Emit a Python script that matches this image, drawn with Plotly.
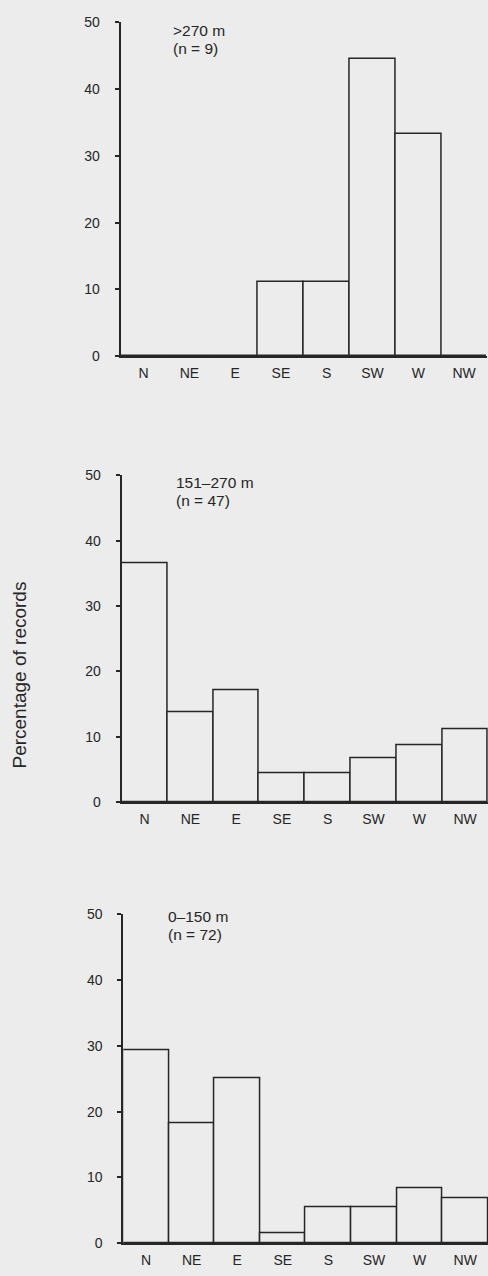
import plotly.graph_objects as go

# ---- data ----
directions = ["N", "NE", "E", "SE", "S", "SW", "W", "NW"]
pct_high = [0, 0, 0, 11.1, 11.1, 44.4, 33.3, 0]          # >270 m (n = 9)
pct_mid = [36.6, 13.7, 17.1, 4.3, 4.3, 6.6, 8.6, 11.1]    # 151–270 m (n = 47)
pct_low = [29.4, 18.3, 25.1, 1.6, 5.5, 5.5, 8.4, 6.8]     # 0–150 m (n = 72)
panel_titles = [">270 m", "151–270 m", "0–150 m"]
panel_counts = ["(n = 9)", "(n = 47)", "(n = 72)"]
y_ticks = [0, 10, 20, 30, 40, 50]
y_title = "Percentage of records"

W, H = 488, 1276
BG = "#ececec"
INK = "#262626"
FONT = "Liberation Sans, Arial, Helvetica, sans-serif"

def px_x(p):
    return p / W

def px_y(p):
    return 1 - p / H

# panel geometry in pixels: (axis x, right x, y of 0, y of 50)
panels = [
    (120.7, 487.0, 352.7, 14.3),
    (121.7, 488.0, 804.0, 473.3),
    (123.3, 488.0, 1251.0, 917.7),
]
label_pos = [  # (left x, line1 y, line2 y)
    (171.0, 22.7, 40.7),
    (174.0, 481.0, 499.0),
    (165.7, 920.0, 938.0),
]
series = [pct_high, pct_mid, pct_low]

fig = go.Figure()
layout = dict(
    width=W, height=H,
    margin=dict(l=0, r=0, t=0, b=0),
    paper_bgcolor=BG, plot_bgcolor=BG,
    showlegend=False, bargap=0,
    font=dict(family=FONT, color=INK),
    annotations=[],
)

for i, (vals, geo) in enumerate(zip(series, panels)):
    xa = "x" if i == 0 else f"x{i+1}"
    ya = "y" if i == 0 else f"y{i+1}"
    fig.add_trace(go.Bar(
        x=directions, y=vals, xaxis=xa, yaxis=ya,
        marker=dict(color=BG, line=dict(color=INK, width=1.5)),
        width=1.0, hoverinfo="x+y",
    ))
    ax0, ax1, y0, y50 = geo
    xkey = "xaxis" if i == 0 else f"xaxis{i+1}"
    ykey = "yaxis" if i == 0 else f"yaxis{i+1}"
    layout[xkey] = dict(
        domain=[px_x(ax0), px_x(ax1)], anchor=ya,
        range=[-0.5, 7.5], showgrid=False, zeroline=False,
        showline=True, linecolor=INK, linewidth=2,
        ticks="", ticklabelstandoff=3,
        tickfont=dict(size=14, family=FONT, color=INK),
        categoryorder="array", categoryarray=directions,
    )
    layout[ykey] = dict(
        domain=[px_y(y0), px_y(y50)], anchor=xa,
        range=[0, 50], tickvals=y_ticks, showgrid=False, zeroline=False,
        showline=True, linecolor=INK, linewidth=2,
        ticks="outside", ticklen=4, tickwidth=1.5, tickcolor=INK,
        ticklabelstandoff=12,
        tickfont=dict(size=14, family=FONT, color=INK),
    )
    lx, ly1, ly2 = label_pos[i]
    layout["annotations"].append(dict(
        xref="paper", yref="paper", x=px_x(lx), y=px_y(ly1),
        xanchor="left", yanchor="middle", showarrow=False,
        text=panel_titles[i], font=dict(size=15.5, family=FONT, color=INK)))
    layout["annotations"].append(dict(
        xref="paper", yref="paper", x=px_x(lx), y=px_y(ly2),
        xanchor="left", yanchor="middle", showarrow=False,
        text=panel_counts[i], font=dict(size=15.5, family=FONT, color=INK)))

layout["annotations"].append(dict(
    xref="paper", yref="paper", x=px_x(20), y=px_y(676),
    xanchor="center", yanchor="middle", showarrow=False, textangle=-90,
    text=y_title, font=dict(size=19, family=FONT, color=INK)))

fig.update_layout(**layout)
fig.write_html(
    "out.html",
    config={"displayModeBar": False},
    post_script="document.body.style.margin='0';document.body.style.overflow='hidden';",
)
